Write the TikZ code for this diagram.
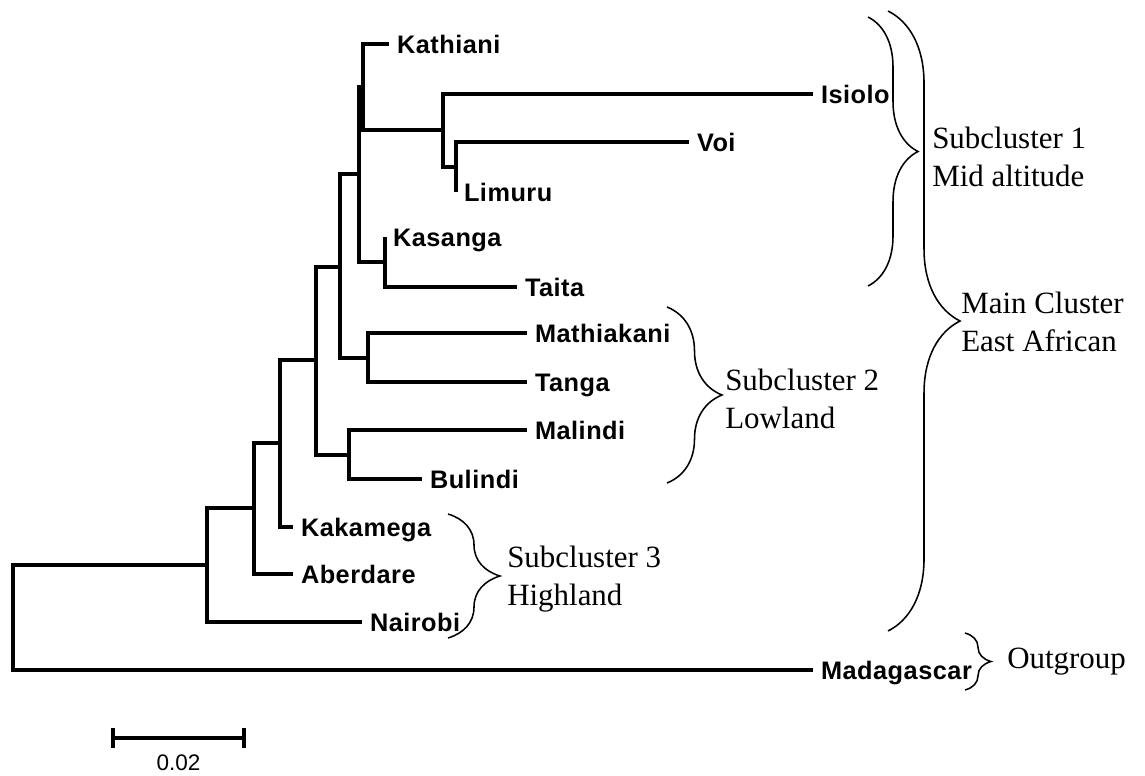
\documentclass[tikz,border=0pt]{standalone}
\usepackage{fontspec}
\setmainfont{Liberation Serif}
\setsansfont{Liberation Sans}
\newfontfamily\leaffont{Liberation Sans}[LetterSpace=2]
\usetikzlibrary{decorations.pathreplacing}

\tikzset{
	branch/.style={line width=2.2pt},
	taxon/.style={anchor=west, inner xsep=5.5pt, inner ysep=0pt, text height=12.9pt, text depth=0pt,
		font={\fontsize{18}{20}\leaffont\bfseries}},
	clusterbrace/.style={decorate, decoration={brace, amplitude=#1}, line width=1.1pt},
	clusterlabel/.style={anchor=west, align=left, inner sep=0pt, font={\fontsize{22}{27}\selectfont}}
}

\begin{document}
\begin{tikzpicture}[x=0.025cm, y=-0.025cm]
		\useasboundingbox (0,0) rectangle (1145,776);
		
		% inner nodes of the tree
		\coordinate (root) at (13,617);
		\coordinate (nH) at (207,565);
		\coordinate (nG) at (254,508);
		\coordinate (nF) at (280,443);
		\coordinate (nD) at (316,360);
		\coordinate (nC) at (340,267);
		\coordinate (nE) at (349,455);
		\coordinate (nMT) at (368,358);
		\coordinate (nB) at (359,174);
		\coordinate (nKT) at (385,262);
		\coordinate (nK) at (363,87);
		\coordinate (nI) at (443,130);
		\coordinate (nV) at (456,167);
		
		% taxa
		\node[taxon] (kathiani) at (389,44) {Kathiani};
		\node[taxon] (isiolo) at (813,94) {Isiolo};
		\node[taxon] (voi) at (689,142) {Voi};
		\node[taxon] (limuru) at (456,192) {Limuru};
		\node[taxon] (kasanga) at (385,237) {Kasanga};
		\node[taxon] (taita) at (517,287) {Taita};
		\node[taxon] (mathiakani) at (527,333) {Mathiakani};
		\node[taxon] (tanga) at (527,382) {Tanga};
		\node[taxon] (malindi) at (527,430) {Malindi};
		\node[taxon] (bulindi) at (422,479) {Bulindi};
		\node[taxon] (kakamega) at (293,527) {Kakamega};
		\node[taxon] (aberdare) at (293,574) {Aberdare};
		\node[taxon] (nairobi) at (362,622) {Nairobi};
		\node[taxon] (madagascar) at (813,670) {Madagascar};
		
		% branches
		\draw[branch] (root) |- (nH);
		\draw[branch] (root) |- (madagascar);
		\draw[branch] (nH) |- (nG);
		\draw[branch] (nH) |- (nairobi);
		\draw[branch] (nG) |- (nF);
		\draw[branch] (nG) |- (aberdare);
		\draw[branch] (nF) |- (nD);
		\draw[branch] (nF) |- (kakamega);
		\draw[branch] (nD) |- (nC);
		\draw[branch] (nD) |- (nE);
		\draw[branch] (nE) |- (malindi);
		\draw[branch] (nE) |- (bulindi);
		\draw[branch] (nC) |- (nB);
		\draw[branch] (nC) |- (nMT);
		\draw[branch] (nMT) |- (mathiakani);
		\draw[branch] (nMT) |- (tanga);
		\draw[branch] (nB) |- (nK);
		\draw[branch] (nB) |- (nKT);
		\draw[branch] (nKT) |- (kasanga);
		\draw[branch] (nKT) |- (taita);
		\draw[branch] (nK) |- (kathiani);
		\draw[branch] (nK) |- (nI);
		\draw[branch] (nI) |- (isiolo);
		\draw[branch] (nI) |- (nV);
		\draw[branch] (nV) |- (voi);
		\draw[branch] (nV) |- (limuru);
		
		% braces, top to bottom
		\draw[clusterbrace=1.25cm] (868,17) -- (868,286);
		\draw[clusterbrace=1.8cm] (888,11) -- (888,631);
		\draw[clusterbrace=1.375cm] (667,307) -- (667,483);
		\draw[clusterbrace=1.3cm] (448,514) -- (448,638);
		\draw[clusterbrace=0.65cm] (965,633) -- (965,690);
		
		\node[clusterlabel] (sub1) at (932,157) {Subcluster 1\\Mid altitude};
		\node[clusterlabel] (main) at (961,322) {Main Cluster\\East African};
		\node[clusterlabel] (sub2) at (725,399) {Subcluster 2\\Lowland};
		\node[clusterlabel] (sub3) at (507,579) {Subcluster 3\\Highland};
		\node[clusterlabel] (outgroup) at (1007,662) {Outgroup};
		
		% scale bar
		\coordinate (barL) at (113,738);
		\coordinate (barR) at (244,738);
		\draw[branch] (barL) -- (barR);
		\draw[branch] (113,728) -- (113,748);
		\draw[branch] (244,728) -- (244,748);
		\node[font={\fontsize{16}{18}\sffamily}] (barlabel) at (178.5,763) {0.02};
		
\end{tikzpicture}
\end{document}
